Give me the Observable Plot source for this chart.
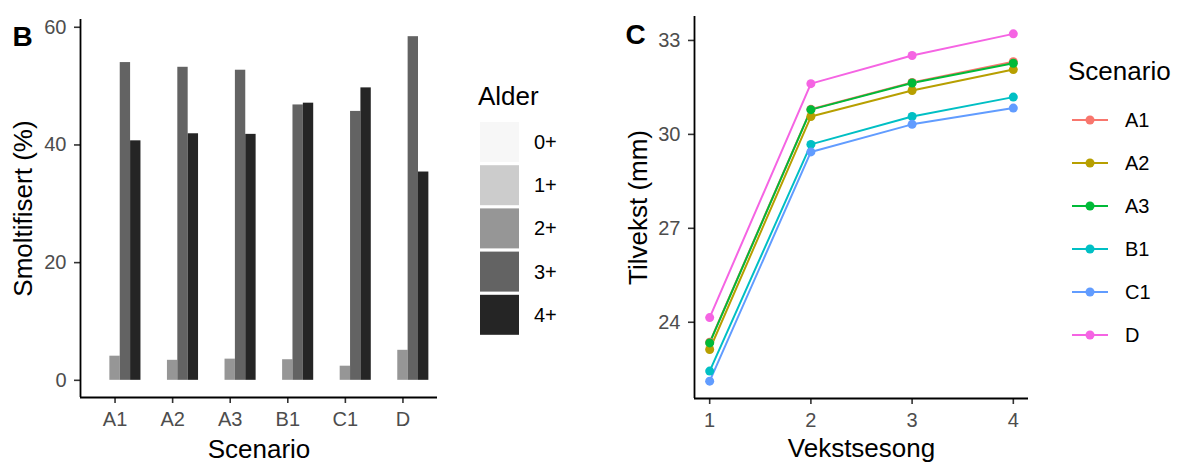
<!DOCTYPE html>
<html>
<head>
<meta charset="utf-8">
<script src="https://cdn.jsdelivr.net/npm/d3@7"></script>
<script src="https://cdn.jsdelivr.net/npm/@observablehq/plot@0.6"></script>
<style>
  html, body { margin: 0; padding: 0; background: #fff; }
  #wrap { position: relative; width: 1178px; height: 464px; overflow: hidden; font-family: "Liberation Sans", Arial, sans-serif; }
  #wrap svg { position: absolute; left: 0; top: 0; }
</style>
</head>
<body>
<div id="wrap"></div>
<script>
// ---------- Data: panel B (smoltification, %) ----------
const scenarios = ["A1", "A2", "A3", "B1", "C1", "D"];
const ages = ["0+", "1+", "2+", "3+", "4+"];
const age0 = [0, 0, 0, 0, 0, 0];
const age1 = [0, 0, 0, 0, 0, 0];
const age2 = [4.1, 3.4, 3.6, 3.5, 2.4, 5.1];
const age3 = [54.0, 53.2, 52.7, 46.8, 45.7, 58.4];
const age4 = [40.7, 41.9, 41.8, 47.1, 49.7, 35.4];
const greys = ["#F7F7F7", "#CCCCCC", "#969696", "#636363", "#252525"];
const smoltTicks = [0, 20, 40, 60];

// ---------- Data: panel C (growth, mm) ----------
const seasons = [1, 2, 3, 4];
const growthA1 = [23.36, 30.80, 31.66, 32.32];
const growthA2 = [23.13, 30.57, 31.40, 32.07];
const growthA3 = [23.34, 30.79, 31.64, 32.27];
const growthB1 = [22.44, 29.68, 30.57, 31.19];
const growthC1 = [22.12, 29.44, 30.32, 30.84];
const growthD  = [24.15, 31.62, 32.52, 33.21];
const hues = ["#F8766D", "#B79F00", "#00BA38", "#00BFC4", "#619CFF", "#F564E3"];
const growthTicks = [24, 27, 30, 33];

// ---------- Build tables ----------
const smolt = [age0, age1, age2, age3, age4];
const barData = [];
scenarios.forEach((s, i) => ages.forEach((a, j) => {
  barData.push({scenario: s, si: i + 1, age: a, ai: j, value: smolt[j][i]});
}));
const growth = [growthA1, growthA2, growthA3, growthB1, growthC1, growthD];
const lineData = [];
scenarios.forEach((s, k) => seasons.forEach((t, n) => {
  lineData.push({scenario: s, season: t, value: growth[k][n]});
}));

const FONT = "Liberation Sans, Arial, sans-serif";
const W = 1178, H = 464;
const wrap = document.getElementById("wrap");

// ---------- Panel B ----------
const bMax = d3.max(barData, d => d.value);
const bPad = bMax * 0.05;
const yB = [-bPad, bMax + bPad];
const xB = [0.4, scenarios.length + 0.6];
const slot = 0.9 / ages.length;

const plotB = Plot.plot({
  width: W, height: H,
  marginLeft: 80, marginRight: 741, marginTop: 19, marginBottom: 67,
  style: {fontFamily: FONT, background: "transparent", overflow: "visible"},
  x: {domain: xB},
  y: {domain: yB},
  color: {domain: ages, range: greys},
  marks: [
    Plot.rect(barData, {
      x1: d => d.si - 0.45 + d.ai * slot,
      x2: d => d.si - 0.45 + (d.ai + 1) * slot,
      y1: d => 0,
      y2: "value",
      fill: "age"
    }),
    Plot.axisX({ticks: scenarios.map((s, i) => i + 1), tickFormat: v => scenarios[v - 1],
      tickSize: 6, tickPadding: 8, fontSize: 20, stroke: "#333", fill: "#4D4D4D", strokeWidth: 1.6, label: null}),
    Plot.axisY({ticks: smoltTicks, tickSize: 6, tickPadding: 8, fontSize: 20,
      stroke: "#333", fill: "#4D4D4D", strokeWidth: 1.6, label: null}),
    Plot.ruleX([xB[0]], {stroke: "#000", strokeWidth: 1.8}),
    Plot.ruleY([yB[0]], {stroke: "#000", strokeWidth: 1.8}),
    Plot.text(["Smoltifisert (%)"], {frameAnchor: "left", textAnchor: "middle", lineAnchor: "middle", rotate: -90, dx: -57, fontSize: 26, fill: "#000"}),
    Plot.text(["Scenario"], {frameAnchor: "bottom", textAnchor: "middle", lineAnchor: "middle", dy: 52, fontSize: 26, fill: "#000"}),
    Plot.text(["B"], {frameAnchor: "top-left", dx: -68, dy: 26, textAnchor: "start", lineAnchor: "bottom", fontSize: 28, fontWeight: "bold", fill: "#000"})
  ]
});
wrap.appendChild(plotB);

// ---------- Panel C ----------
const cMin = d3.min(lineData, d => d.value), cMax = d3.max(lineData, d => d.value);
const cPad = (cMax - cMin) * 0.05;
const yC = [cMin - cPad, cMax + cPad];
const xC = [1 - 0.15, 4 + 0.15];

const plotC = Plot.plot({
  width: W, height: H,
  marginLeft: 694, marginRight: 150, marginTop: 16, marginBottom: 66,
  style: {fontFamily: FONT, background: "transparent", overflow: "visible"},
  x: {domain: xC},
  y: {domain: yC},
  color: {domain: scenarios, range: hues},
  marks: [
    Plot.line(lineData, {x: "season", y: "value", stroke: "scenario", z: "scenario", strokeWidth: 2}),
    Plot.dot(lineData, {x: "season", y: "value", fill: "scenario", r: 4.5}),
    Plot.axisX({ticks: seasons, tickFormat: d3.format("d"), tickSize: 6, tickPadding: 8, fontSize: 20,
      stroke: "#333", fill: "#4D4D4D", strokeWidth: 1.6, label: null}),
    Plot.axisY({ticks: growthTicks, tickSize: 6, tickPadding: 8, fontSize: 20,
      stroke: "#333", fill: "#4D4D4D", strokeWidth: 1.6, label: null}),
    Plot.ruleX([xC[0]], {stroke: "#000", strokeWidth: 1.8}),
    Plot.ruleY([yC[0]], {stroke: "#000", strokeWidth: 1.8}),
    Plot.text(["Tilvekst (mm)"], {frameAnchor: "left", textAnchor: "middle", lineAnchor: "middle", rotate: -90, dx: -56, fontSize: 26, fill: "#000"}),
    Plot.text(["Vekstsesong"], {frameAnchor: "bottom", textAnchor: "middle", lineAnchor: "middle", dy: 50, fontSize: 26, fill: "#000"}),
    Plot.text(["C"], {frameAnchor: "top-left", dx: -69, dy: 27, textAnchor: "start", lineAnchor: "bottom", fontSize: 28, fontWeight: "bold", fill: "#000"})
  ]
});
wrap.appendChild(plotC);

// ---------- Legends ----------
const leg = d3.create("svg").attr("width", W).attr("height", H)
  .style("font-family", FONT);

// Alder legend
leg.append("text").attr("x", 478).attr("y", 105).attr("font-size", 26).text("Alder");
ages.forEach((a, j) => {
  const y0 = 122 + j * 43.2;
  leg.append("rect").attr("x", 480).attr("y", y0).attr("width", 39).attr("height", 40).attr("fill", greys[j]);
  leg.append("text").attr("x", 534).attr("y", y0 + 20).attr("dy", "0.35em").attr("font-size", 20).text(a);
});

// Scenario legend
leg.append("text").attr("x", 1068).attr("y", 80).attr("font-size", 26).text("Scenario");
scenarios.forEach((s, k) => {
  const yc = 120 + k * 43;
  leg.append("line").attr("x1", 1072).attr("x2", 1108).attr("y1", yc).attr("y2", yc)
    .attr("stroke", hues[k]).attr("stroke-width", 2);
  leg.append("circle").attr("cx", 1090).attr("cy", yc).attr("r", 4.5).attr("fill", hues[k]);
  leg.append("text").attr("x", 1125).attr("y", yc).attr("dy", "0.35em").attr("font-size", 20).text(s);
});
wrap.appendChild(leg.node());
</script>
</body>
</html>
